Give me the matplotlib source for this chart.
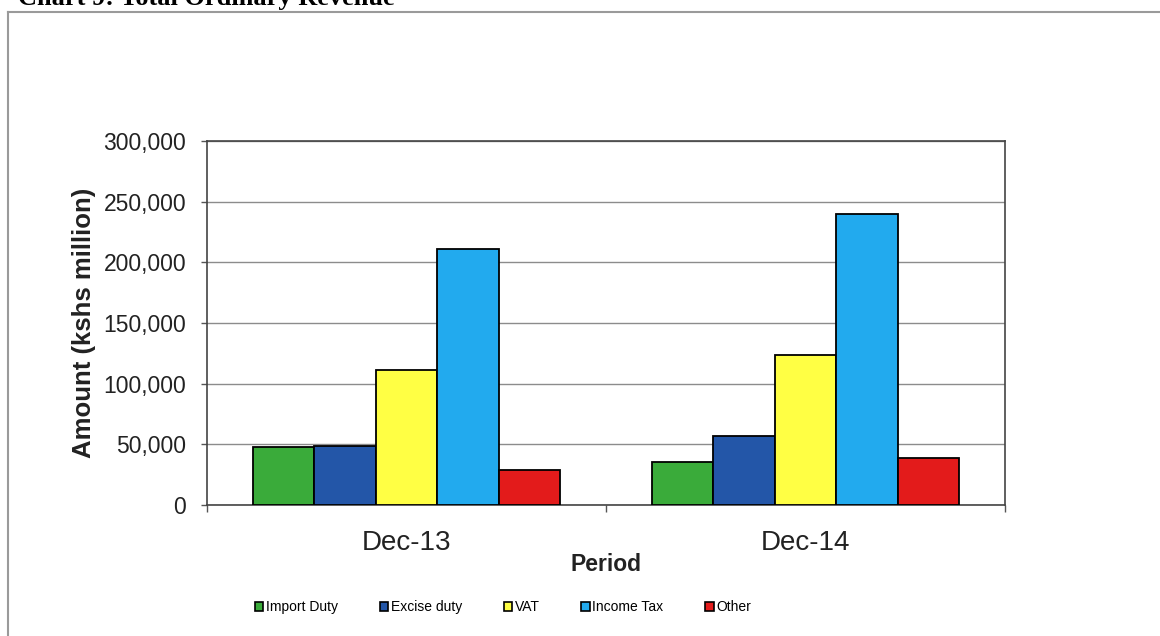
import numpy as np
import matplotlib.pyplot as plt
from matplotlib.lines import Line2D
from matplotlib.ticker import FuncFormatter

periods = ['Dec-13', 'Dec-14']
series_names = ['Import Duty', 'Excise duty', 'VAT', 'Income Tax', 'Other']
import_duty = [47800, 35400]
excise_duty = [48600, 56900]
vat = [111300, 123600]
income_tax = [211000, 239800]
other = [28800, 38700]
colors = ['#3aab3a', '#2356a8', '#ffff44', '#22aaee', '#e31b1b']

values = [import_duty, excise_duty, vat, income_tax, other]

plt.rcParams['font.family'] = ['Liberation Sans', 'DejaVu Sans']

fig = plt.figure(figsize=(11.6, 6.36), dpi=100)
ax = fig.add_axes([207/1160, 1-505/636, (1005-207)/1160, (505-141)/636])

# outer chart frame (right and bottom edges fall outside the image)
fig.add_artist(Line2D([8/1160, 8/1160], [0, 1-12/636], color='#9a9a9a', lw=1.5))
fig.add_artist(Line2D([8/1160, 1.0], [1-12/636, 1-12/636], color='#9a9a9a', lw=1.5))

# title sits mostly above the top edge, as in the scanned page
fig.text(18/1160, 1-5/636, 'Chart 9: Total Ordinary Revenue', family='Liberation Serif',
         fontweight='bold', fontsize=19, va='baseline', ha='left')

n = len(series_names)
w = 1/(n+1.5)
x = np.arange(len(periods))
for i in range(n):
    ax.bar(x + (i - (n-1)/2)*w, values[i], w, color=colors[i], edgecolor='black',
           linewidth=1.3, label=series_names[i], zorder=3)

ax.set_xlim(-0.5, 1.5)
ax.set_ylim(0, 300000)
ax.set_yticks(np.arange(0, 300001, 50000))
ax.yaxis.set_major_formatter(FuncFormatter(lambda v, p: f'{int(v):,}'))
ax.grid(axis='y', color='#8c8c8c', lw=1.0, zorder=0)

ax.set_xticks(x)
ax.set_xticklabels(periods, fontsize=20)
ax.set_xticks([-0.5, 0.5, 1.5], minor=True)
ax.tick_params(axis='x', which='major', length=0, pad=18, labelcolor='#222222')
ax.tick_params(axis='x', which='minor', length=5, width=1, color='#555555', direction='out')
ax.tick_params(axis='y', length=4, width=1, color='#555555', labelsize=16.5, pad=11, labelcolor='#222222')

for s in ax.spines.values():
    s.set_color('#444444')
    s.set_linewidth(1.2)

ax.set_ylabel('Amount (kshs million)', fontsize=18.5, fontweight='bold', labelpad=5, color='#222222')
ax.set_xlabel('Period', fontsize=16.5, fontweight='bold', labelpad=-2, color='#222222')

leg = fig.legend(loc='center', bbox_to_anchor=(503/1160, 1-607/636), ncol=5, frameon=False,
                 fontsize=10, handlelength=0.6, handleheight=0.6, handletextpad=0.2,
                 columnspacing=3.0)
for h in leg.legend_handles:
    h.set_linewidth(1.2)

fig.savefig('out.png', dpi=100)
